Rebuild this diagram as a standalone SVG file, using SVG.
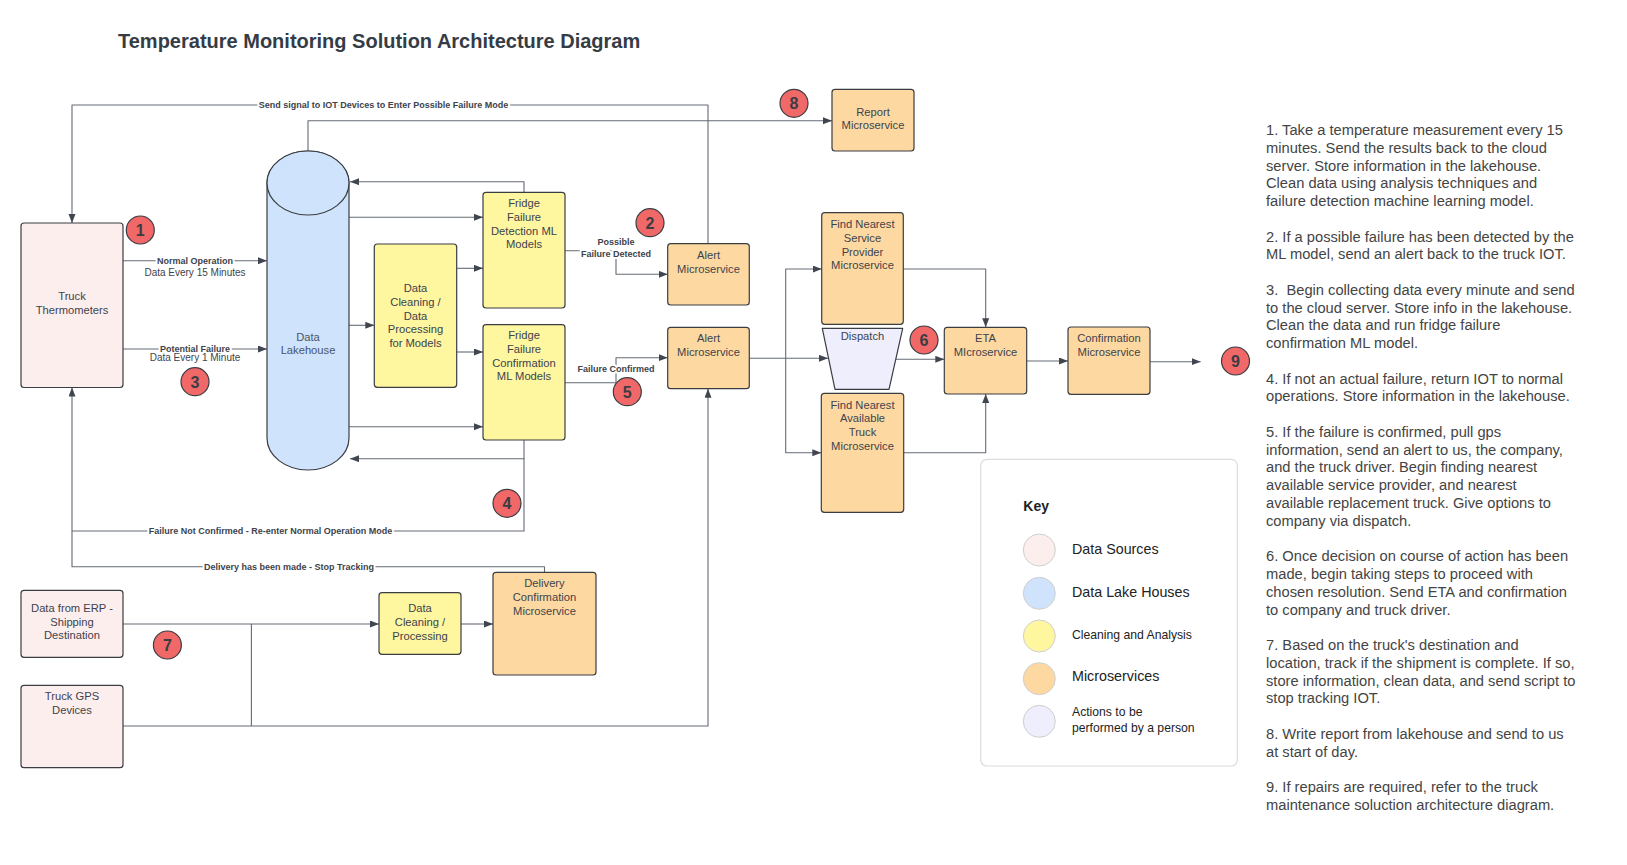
<svg xmlns="http://www.w3.org/2000/svg" width="1627" height="865" viewBox="0 0 1627 865">
<defs>
<style>
text{font-family:"Liberation Sans",Arial,sans-serif;fill:#3d434c}
.nt{font-size:11.2px;text-anchor:middle}
.lb{font-size:9px;font-weight:bold;text-anchor:middle;stroke:#fff;stroke-width:4px;paint-order:stroke;stroke-linejoin:round}
.lr{font-size:10px;text-anchor:middle}
.ln{fill:none;stroke:#646b75;stroke-width:1.1;stroke-linejoin:round}
.arr{marker-end:url(#ah)}
.box{stroke:#3a3d42;stroke-width:1.2}
.pink{fill:#fdeeee}
.blue{fill:#cfe3fc}
.yel{fill:#fff6a0}
.org{fill:#fdd9a1}
.lav{fill:#eeeefc}
.badge circle{fill:#f06868;stroke:#3a3d42;stroke-width:1.2}
.badge text{font-size:16px;font-weight:bold;text-anchor:middle;fill:#3a3d42}
.key{font-size:14.3px;fill:#222}
.keys{font-size:12.2px;fill:#222}
.kc{stroke:#cfcfcf;stroke-width:1}
.notes{font-size:14.7px;fill:#444}
</style>
<marker id="ah" markerWidth="10" markerHeight="8" refX="9" refY="3.5" orient="auto" markerUnits="userSpaceOnUse">
<path d="M0,0 L9,3.5 L0,7 Z" fill="#3f4650"/>
</marker>
</defs>
<rect width="1627" height="865" fill="#fff"/>
<text x="118" y="48.3" style="font-size:20px;font-weight:bold;fill:#353c45">Temperature Monitoring Solution Architecture Diagram</text>

<g id="connectors">
<path class="ln arr" d="M708,243.7 V105 H72 V223"/>
<path class="ln arr" d="M308,151 V120.7 H832"/>
<path class="ln arr" d="M123,260.7 H267"/>
<path class="ln arr" d="M123,349 H267"/>
<path class="ln arr" d="M524,192.3 V181.7 H350"/>
<path class="ln arr" d="M349,217.3 H483"/>
<path class="ln arr" d="M349,325.3 H374.3"/>
<path class="ln arr" d="M456.7,268.3 H483"/>
<path class="ln arr" d="M456.7,352 H483"/>
<path class="ln arr" d="M349,426.7 H483"/>
<path class="ln arr" d="M524,440 V458.7 H350"/>
<path class="ln arr" d="M524,458.7 V531 H72 V387.5"/>
<path class="ln" d="M544.5,572.3 V566.7 H72 V531"/>
<path class="ln arr" d="M565,250.7 H616 V274.3 H667.7"/>
<path class="ln arr" d="M565,382.7 H616 V357.7 H667.7"/>
<path class="ln arr" d="M749.3,358.3 H828"/>
<path class="ln arr" d="M785.7,358.3 V269 H821.7"/>
<path class="ln arr" d="M785.7,358.3 V452.7 H821.3"/>
<path class="ln arr" d="M903.3,269 H985.7 V327.3"/>
<path class="ln arr" d="M903.7,452.7 H985.7 V394"/>
<path class="ln arr" d="M896,359.3 H944.3"/>
<path class="ln arr" d="M1026.7,361 H1068"/>
<path class="ln arr" d="M1150,361.7 H1200.7"/>
<path class="ln arr" d="M123,624 H379"/>
<path class="ln arr" d="M123,726 H708 V388.7"/>
<path class="ln" d="M251.4,726 V624"/>
<path class="ln arr" d="M461,624 H493"/>
<text class="lb" x="383.5" y="108.2">Send signal to IOT Devices to Enter Possible Failure Mode</text>
<text class="lb" x="195" y="263.8">Normal Operation</text>
<text class="lr" x="195" y="276.3">Data Every 15 Minutes</text>
<text class="lb" x="195" y="352">Potential Failure</text>
<text class="lr" x="195" y="360.5">Data Every 1 Minute</text>
<text class="lb" x="616" y="245">Possible</text>
<text class="lb" x="616" y="256.7">Failure Detected</text>
<text class="lb" x="616" y="372">Failure Confirmed</text>
<text class="lb" x="270.6" y="534.2">Failure Not Confirmed - Re-enter Normal Operation Mode</text>
<text class="lb" x="289" y="569.9">Delivery has been made - Stop Tracking</text>
</g>

<g id="truck-thermometers">
<rect class="box pink" x="21" y="223" width="102" height="164.5" rx="3"/>
<text class="nt" x="72" y="300">Truck</text>
<text class="nt" x="72" y="313.5">Thermometers</text>
</g>
<g id="data-lakehouse">
<path class="box blue" d="M267,183 V438 A41,32 0 0 0 349,438 V183 A41,32 0 0 0 267,183 Z"/>
<ellipse class="box blue" cx="308" cy="183" rx="41" ry="32"/>
<text class="nt" x="308" y="340.7" style="fill:#4a5566">Data</text>
<text class="nt" x="308" y="354.3" style="fill:#4a5566">Lakehouse</text>
</g>
<g id="data-cleaning-models">
<rect class="box yel" x="374.3" y="244" width="82.4" height="143.3" rx="3"/>
<text class="nt" x="415.5" y="292.3">Data</text>
<text class="nt" x="415.5" y="306">Cleaning /</text>
<text class="nt" x="415.5" y="319.7">Data</text>
<text class="nt" x="415.5" y="333.3">Processing</text>
<text class="nt" x="415.5" y="347">for Models</text>
</g>
<g id="fridge-detection">
<rect class="box yel" x="483" y="192.3" width="82" height="115.7" rx="3"/>
<text class="nt" x="524" y="207.3">Fridge</text>
<text class="nt" x="524" y="221">Failure</text>
<text class="nt" x="524" y="234.7">Detection ML</text>
<text class="nt" x="524" y="248.3">Models</text>
</g>
<g id="fridge-confirmation">
<rect class="box yel" x="483" y="324.7" width="82" height="115.3" rx="3"/>
<text class="nt" x="524" y="339.3">Fridge</text>
<text class="nt" x="524" y="353">Failure</text>
<text class="nt" x="524" y="366.7">Confirmation</text>
<text class="nt" x="524" y="380.3">ML Models</text>
</g>
<g id="alert-1">
<rect class="box org" x="667.7" y="243.7" width="81.6" height="61.3" rx="3"/>
<text class="nt" x="708.5" y="259">Alert</text>
<text class="nt" x="708.5" y="272.7">Microservice</text>
</g>
<g id="alert-2">
<rect class="box org" x="667.7" y="327.3" width="81.6" height="61.4" rx="3"/>
<text class="nt" x="708.5" y="342.3">Alert</text>
<text class="nt" x="708.5" y="356">Microservice</text>
</g>
<g id="report">
<rect class="box org" x="832" y="89.3" width="82" height="61.7" rx="3"/>
<text class="nt" x="873" y="115.7">Report</text>
<text class="nt" x="873" y="129.3">Microservice</text>
</g>
<g id="find-service">
<rect class="box org" x="821.7" y="212.7" width="81.6" height="111.6" rx="3"/>
<text class="nt" x="862.5" y="228.3">Find Nearest</text>
<text class="nt" x="862.5" y="242">Service</text>
<text class="nt" x="862.5" y="255.7">Provider</text>
<text class="nt" x="862.5" y="269.3">Microservice</text>
</g>
<g id="dispatch">
<path class="box lav" d="M822.3,328.3 H902.7 L889,389.3 H835 Z" stroke-linejoin="round"/>
<text class="nt" x="862.5" y="340">Dispatch</text>
</g>
<g id="find-truck">
<rect class="box org" x="821.3" y="393.3" width="82.4" height="119" rx="3"/>
<text class="nt" x="862.5" y="408.7">Find Nearest</text>
<text class="nt" x="862.5" y="422.3">Available</text>
<text class="nt" x="862.5" y="436">Truck</text>
<text class="nt" x="862.5" y="449.7">Microservice</text>
</g>
<g id="eta">
<rect class="box org" x="944.3" y="327.3" width="82.4" height="66.7" rx="3"/>
<text class="nt" x="985.5" y="342.3">ETA</text>
<text class="nt" x="985.5" y="356">MIcroservice</text>
</g>
<g id="confirmation">
<rect class="box org" x="1068" y="327" width="82" height="67.3" rx="3"/>
<text class="nt" x="1109" y="342.3">Confirmation</text>
<text class="nt" x="1109" y="356">Microservice</text>
</g>
<g id="delivery-confirmation">
<rect class="box org" x="493" y="572.3" width="103" height="102.7" rx="3"/>
<text class="nt" x="544.5" y="587.3">Delivery</text>
<text class="nt" x="544.5" y="601">Confirmation</text>
<text class="nt" x="544.5" y="614.7">Microservice</text>
</g>
<g id="erp">
<rect class="box pink" x="21" y="590.3" width="102" height="67" rx="3"/>
<text class="nt" x="72" y="612">Data from ERP -</text>
<text class="nt" x="72" y="625.7">Shipping</text>
<text class="nt" x="72" y="639.3">Destination</text>
</g>
<g id="gps">
<rect class="box pink" x="21" y="685.3" width="102" height="82.4" rx="3"/>
<text class="nt" x="72" y="700">Truck GPS</text>
<text class="nt" x="72" y="713.7">Devices</text>
</g>
<g id="data-cleaning-processing">
<rect class="box yel" x="379" y="592.7" width="82" height="61.6" rx="3"/>
<text class="nt" x="420" y="612.3">Data</text>
<text class="nt" x="420" y="626">Cleaning /</text>
<text class="nt" x="420" y="639.7">Processing</text>
</g>

<g id="badges" class="badge">
<g><circle cx="140.3" cy="230" r="14"/><text x="140.3" y="235.8">1</text></g>
<g><circle cx="650" cy="222.7" r="14"/><text x="650" y="228.5">2</text></g>
<g><circle cx="195" cy="381.7" r="14"/><text x="195" y="387.5">3</text></g>
<g><circle cx="507" cy="503.3" r="14"/><text x="507" y="509.1">4</text></g>
<g><circle cx="627.3" cy="391.7" r="14"/><text x="627.3" y="397.5">5</text></g>
<g><circle cx="924" cy="340" r="14"/><text x="924" y="345.8">6</text></g>
<g><circle cx="167.4" cy="645" r="14"/><text x="167.4" y="650.8">7</text></g>
<g><circle cx="794" cy="103.3" r="14"/><text x="794" y="109.1">8</text></g>
<g><circle cx="1235.5" cy="361" r="14"/><text x="1235.5" y="366.8">9</text></g>
</g>

<g id="key">
<rect x="980.7" y="459.3" width="256.6" height="306.7" rx="6" fill="#fff" stroke="#dcdcdc" stroke-width="1.2"/>
<text x="1023.3" y="511" style="font-size:14px;font-weight:bold;fill:#222">Key</text>
<circle class="kc pink" cx="1039.3" cy="550" r="16"/>
<circle class="kc blue" cx="1039.3" cy="593.3" r="16"/>
<circle class="kc yel" cx="1039.3" cy="636" r="16"/>
<circle class="kc org" cx="1039.3" cy="678.7" r="16"/>
<circle class="kc lav" cx="1039.3" cy="721.3" r="16"/>
<text class="key" x="1072" y="553.7">Data Sources</text>
<text class="key" x="1072" y="596.7">Data Lake Houses</text>
<text class="keys" x="1072" y="638.7">Cleaning and Analysis</text>
<text class="key" x="1072" y="681.3">Microservices</text>
<text class="keys" x="1072" y="716">Actions to be</text>
<text class="keys" x="1072" y="732">performed by a person</text>
</g>

<g id="notes" class="notes">
<text class="notes" x="1266" y="135">1. Take a temperature measurement every 15</text>
<text class="notes" x="1266" y="152.76">minutes. Send the results back to the cloud</text>
<text class="notes" x="1266" y="170.52">server. Store information in the lakehouse.</text>
<text class="notes" x="1266" y="188.28">Clean data using analysis techniques and</text>
<text class="notes" x="1266" y="206.04">failure detection machine learning model.</text>
<text class="notes" x="1266" y="241.56">2. If a possible failure has been detected by the</text>
<text class="notes" x="1266" y="259.32">ML model, send an alert back to the truck IOT.</text>
<text class="notes" x="1266" y="294.84" xml:space="preserve">3.  Begin collecting data every minute and send</text>
<text class="notes" x="1266" y="312.6">to the cloud server. Store info in the lakehouse.</text>
<text class="notes" x="1266" y="330.36">Clean the data and run fridge failure</text>
<text class="notes" x="1266" y="348.12">confirmation ML model.</text>
<text class="notes" x="1266" y="383.64">4. If not an actual failure, return IOT to normal</text>
<text class="notes" x="1266" y="401.4">operations. Store information in the lakehouse.</text>
<text class="notes" x="1266" y="436.92">5. If the failure is confirmed, pull gps</text>
<text class="notes" x="1266" y="454.68">information, send an alert to us, the company,</text>
<text class="notes" x="1266" y="472.44">and the truck driver. Begin finding nearest</text>
<text class="notes" x="1266" y="490.2">available service provider, and nearest</text>
<text class="notes" x="1266" y="507.96">available replacement truck. Give options to</text>
<text class="notes" x="1266" y="525.72">company via dispatch.</text>
<text class="notes" x="1266" y="561.24">6. Once decision on course of action has been</text>
<text class="notes" x="1266" y="579">made, begin taking steps to proceed with</text>
<text class="notes" x="1266" y="596.76">chosen resolution. Send ETA and confirmation</text>
<text class="notes" x="1266" y="614.52">to company and truck driver.</text>
<text class="notes" x="1266" y="650.04">7. Based on the truck's destination and</text>
<text class="notes" x="1266" y="667.8">location, track if the shipment is complete. If so,</text>
<text class="notes" x="1266" y="685.56">store information, clean data, and send script to</text>
<text class="notes" x="1266" y="703.32">stop tracking IOT.</text>
<text class="notes" x="1266" y="738.84">8. Write report from lakehouse and send to us</text>
<text class="notes" x="1266" y="756.6">at start of day.</text>
<text class="notes" x="1266" y="792.12">9. If repairs are required, refer to the truck</text>
<text class="notes" x="1266" y="809.88">maintenance soluction architecture diagram.</text>
</g>
</svg>
